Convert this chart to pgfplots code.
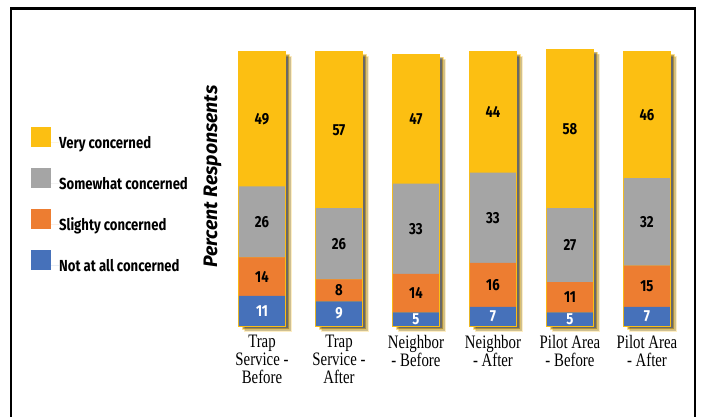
\documentclass[border=0pt]{standalone}
\usepackage{pgfplots}
\pgfplotsset{compat=1.18}
\usepackage{pgfplotstable}
\usetikzlibrary{shadows}
\usepackage{fontspec}
\setmainfont{Liberation Serif}
\newfontfamily\condfont[FakeStretch=0.82]{Fira Sans}
\newfontfamily\serifcond[FakeStretch=0.78]{Liberation Serif}
\definecolor{cyel}{HTML}{FCBF12}
\definecolor{cgray}{HTML}{A5A5A5}
\definecolor{cora}{HTML}{ED7D31}
\definecolor{cblue}{HTML}{4671BA}

\pgfplotstableread{
x notall slight somewhat very total
0 11 14 26 49 100
1 9 8 26 57 100
2 5 14 33 47 99
3 7 16 33 44 100
4 5 11 27 58 101
5 7 15 32 46 100
}\datatable

\pgfplotstableread{
x y lab
0 18 14
0 38 26
0 75.5 49
1 13 8
1 30 26
1 71.5 57
2 12 14
2 35.5 33
2 75.5 47
3 15 16
3 39.5 33
3 78 44
4 10.5 11
4 29.5 27
4 72 58
5 14.5 15
5 38 32
5 77 46
}\darklabels

\pgfplotstableread{
x y lab
0 5.5 11
1 4.5 9
2 2.5 5
3 3.5 7
4 2.5 5
5 3.5 7
}\whitelabels

\pgfplotsset{
  common/.style={
    at={(200pt,91pt)}, anchor=south west,
    scale only axis, width=490pt, height=274pt,
    xmin=-0.805, xmax=5.559, ymin=0, ymax=100,
    clip=false,
    axis line style={draw=none},
    tick style={draw=none},
    ytick=\empty,
    xtick=\empty,
  }
}

\begin{document}
\begin{tikzpicture}[x=1pt,y=1pt]
\useasboundingbox (0,0) rectangle (701,417);
\clip (0,0) rectangle (701,417);
\fill[white] (0,0) rectangle (701,417);
\draw[line width=2.6pt, black] (10.8,408.3) rectangle (695,-20);

% shadows + gold rim
\begin{axis}[common, ybar, bar width=46pt]
\addplot[fill=cyel, draw=cyel, line width=1.2pt,
  drop shadow={shadow xshift=6pt, shadow yshift=-5pt, opacity=0.25, fill=black},
  drop shadow={shadow xshift=4pt, shadow yshift=-3pt, opacity=0.45, fill=black}]
  table[x=x, y=total] {\datatable};
\end{axis}

% stacked bars
\begin{axis}[common, ybar stacked, bar width=46pt,
  xtick={0,1,2,3,4,5},
  xticklabels={{Trap\\Service -\\Before},{Trap\\Service -\\After},{Neighbor\\- Before},{Neighbor\\- After},{Pilot Area\\- Before},{Pilot Area\\- After}},
  xticklabel style={align=center, font=\serifcond\fontsize{19}{18}\selectfont, inner sep=0pt, yshift=-9pt, anchor=north},
  ylabel={Percent Responsents},
  every axis y label/.style={at={(axis description cs:0.0255,0.545)}, rotate=90, anchor=center,
    font=\fontspec{Fira Sans}\bfseries\itshape\fontsize{19.5}{21}\selectfont},
  legend reversed,
  legend cell align=left,
  legend style={at={(axis description cs:-0.345,0.727)}, anchor=north west,
    draw=none, fill=none, inner sep=0pt, row sep=18pt,
    font=\condfont\bfseries\fontsize{16}{18}\selectfont,
    nodes={inner sep=0pt}},
  every axis plot/.append style={draw=none,
    legend image code/.code={\path (0pt,0pt) -- (28pt,0pt); \fill[##1] (0pt,-4pt) rectangle (20pt,16pt);}},
]
\addplot[fill=cblue] table[x=x, y=notall] {\datatable};
\addlegendentry{Not at all concerned}
\addplot[fill=cora] table[x=x, y=slight] {\datatable};
\addlegendentry{Slighty concerned}
\addplot[fill=cgray] table[x=x, y=somewhat] {\datatable};
\addlegendentry{Somewhat concerned}
\addplot[fill=cyel] table[x=x, y=very] {\datatable};
\addlegendentry{Very concerned}
\end{axis}

% value labels
\begin{axis}[common]
\addplot[draw=none, mark=none, nodes near coords, point meta=explicit symbolic,
  every node near coord/.style={anchor=center, inner sep=0pt, text=black,
    font=\condfont\bfseries\fontsize{16}{18}\selectfont}]
  table[x=x, y=y, meta=lab] {\darklabels};
\addplot[draw=none, mark=none, nodes near coords, point meta=explicit symbolic,
  every node near coord/.style={anchor=center, inner sep=0pt, text=white,
    font=\condfont\bfseries\fontsize{16}{18}\selectfont}]
  table[x=x, y=y, meta=lab] {\whitelabels};
\end{axis}
\end{tikzpicture}
\end{document}
